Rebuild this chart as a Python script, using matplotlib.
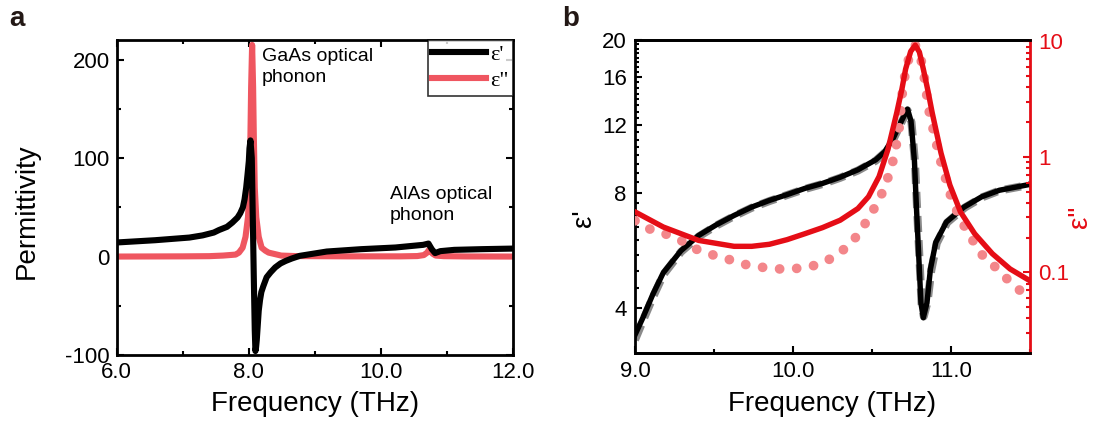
import numpy as np
import matplotlib.pyplot as plt
from matplotlib.ticker import MultipleLocator, FixedLocator, NullFormatter, FuncFormatter, LogLocator

plt.rcParams['font.family'] = ['Liberation Sans', 'DejaVu Sans']
plt.rcParams['axes.unicode_minus'] = False

# ---- panel a : bulk permittivity ----
fa_re = [6.0, 6.58, 7.10, 7.30, 7.47, 7.55, 7.67, 7.75, 7.83, 7.87, 7.91, 7.935, 7.96, 7.98, 8.00,
         8.01, 8.025, 8.045, 8.06, 8.075, 8.09, 8.10, 8.11, 8.12, 8.13, 8.15, 8.17, 8.19, 8.22,
         8.27, 8.33, 8.40, 8.48, 8.56, 8.65, 8.77, 9.18, 9.70, 10.22, 10.64, 10.72, 10.77, 10.82,
         10.90, 11.11, 11.52, 12.0]
eps_re_a = [14.3, 16.6, 19.3, 21.5, 24.4, 27, 30.2, 34.5, 39.7, 44, 50, 58, 70, 83, 97,
            110, 118, 100, 40, -20, -75, -96, -92, -85, -75, -55, -44, -36, -30,
            -21, -16, -11, -7, -4.4, -2, 0.7, 5.1, 7.5, 9.2, 11.9, 13.2, 7.5, 3.5,
            5.5, 6.8, 7.5, 8.1]
fa_im = [6.0, 7.0, 7.4, 7.61, 7.80, 7.85, 7.906, 7.95, 7.9875, 8.01, 8.025, 8.035, 8.05, 8.065,
         8.075, 8.09, 8.1125, 8.15, 8.194, 8.25, 8.30, 8.49, 8.7, 9.5, 10.3, 10.55, 10.65, 10.70,
         10.74, 10.78, 10.83, 10.95, 11.3, 12.0]
eps_im_a = [0, 0.2, 0.4, 1, 2, 4, 9, 20, 40, 70, 125, 172, 215, 172,
            125, 70, 40, 20, 9, 6, 4, 1, 0.5, 0.2, 0.2, 0.5, 1.5, 4,
            8, 3, 1, 0.4, 0.1, 0]

# ---- panel b : zoom around AlAs phonon ----
fb_re = [9.0, 9.05, 9.112, 9.179, 9.291, 9.403, 9.515, 9.627, 9.739, 9.851, 9.963, 10.075, 10.187,
         10.299, 10.411, 10.523, 10.579, 10.635, 10.691, 10.725, 10.747, 10.769, 10.780, 10.792,
         10.810, 10.825, 10.848, 10.870, 10.904, 10.971, 11.083, 11.195, 11.307, 11.5]
eps_re_b = [3.4, 3.77, 4.33, 4.94, 5.64, 6.18, 6.59, 6.97, 7.33, 7.63, 7.90, 8.20, 8.45,
            8.77, 9.17, 9.73, 10.2, 11.1, 12.4, 13.2, 12.3, 9.64, 7.55, 5.93,
            4.12, 3.77, 4.12, 5.05, 5.93, 6.70, 7.33, 7.80, 8.11, 8.40]
fb_re_fit = [9.0, 9.05, 9.112, 9.179, 9.291, 9.403, 9.515, 9.627, 9.739, 9.851, 9.963, 10.075, 10.187,
             10.299, 10.411, 10.523, 10.579, 10.635, 10.691, 10.725, 10.750, 10.772, 10.784, 10.796,
             10.814, 10.828, 10.852, 10.875, 10.910, 10.976, 11.088, 11.200, 11.310, 11.5]
eps_re_fit = [3.3, 3.7, 4.25, 4.88, 5.60, 6.14, 6.56, 6.94, 7.30, 7.60, 7.88, 8.17, 8.42,
              8.74, 9.13, 9.68, 10.15, 11.0, 12.3, 13.1, 12.2, 9.6, 7.5, 5.9,
              4.1, 3.8, 4.15, 5.0, 5.9, 6.68, 7.31, 7.78, 8.10, 8.38]
fb_im = [9.0, 9.179, 9.403, 9.627, 9.739, 9.851, 9.963, 10.075, 10.187, 10.299, 10.411, 10.478,
         10.545, 10.601, 10.657, 10.69, 10.713, 10.745, 10.774, 10.80, 10.825, 10.855, 10.881,
         10.937, 10.993, 11.060, 11.150, 11.262, 11.374, 11.5]
eps_im_b = [0.334, 0.247, 0.189, 0.168, 0.168, 0.175, 0.192, 0.216, 0.244, 0.283, 0.357, 0.452,
            0.676, 1.16, 2.42, 3.9, 5.77, 8.2, 9.3, 8.1, 5.77, 3.7, 2.42,
            1.08, 0.571, 0.334, 0.216, 0.145, 0.107, 0.0845]
fb_im_fit = [9.0, 9.022, 9.112, 9.190, 9.291, 9.381, 9.482, 9.582, 9.683, 9.795, 9.896, 9.997, 10.109,
             10.198, 10.288, 10.366, 10.433, 10.489, 10.545, 10.590, 10.635, 10.669, 10.69, 10.713,
             10.745, 10.774, 10.80, 10.825, 10.859, 10.926, 10.993, 11.060, 11.116, 11.161, 11.217,
             11.307, 11.374, 11.452, 11.5]
eps_im_fit = [0.28, 0.264, 0.231, 0.216, 0.189, 0.160, 0.143, 0.131, 0.118, 0.111, 0.107, 0.107, 0.112,
              0.122, 0.145, 0.177, 0.234, 0.313, 0.423, 0.591, 0.944, 1.61, 3.4, 5.6,
              8.2, 9.3, 8.1, 5.6, 2.58, 1.01, 0.483, 0.283, 0.216, 0.165, 0.131,
              0.104, 0.082, 0.067, 0.062]

red_a = '#ef5660'
red_b = '#e50d16'

fig = plt.figure(figsize=(10.95, 4.22), dpi=100)

# panel a
ax = fig.add_axes([0.1066, 0.1588, 0.3619, 0.7464])
ax.plot(fa_re, eps_re_a, color='black', lw=4.4, label="ε'", zorder=3)
ax.plot(fa_im, eps_im_a, color=red_a, lw=4.4, label='ε"', zorder=2)
ax.set_xlim(6, 12)
ax.set_ylim(-100, 220)
ax.xaxis.set_major_locator(MultipleLocator(2))
ax.xaxis.set_minor_locator(MultipleLocator(1))
ax.xaxis.set_major_formatter(FuncFormatter(lambda v, p: f'{v:.1f}'))
ax.yaxis.set_major_locator(MultipleLocator(100))
ax.yaxis.set_minor_locator(MultipleLocator(50))
ax.tick_params(which='both', direction='in', top=True, right=True, width=1.5, labelsize=16, pad=5)
ax.tick_params(which='major', length=5)
ax.tick_params(which='minor', length=3)
for s in ax.spines.values():
    s.set_linewidth(2)
ax.set_xlabel('Frequency (THz)', fontsize=20, labelpad=6)
ax.set_ylabel('Permittivity', fontsize=20, va='center')
ax.yaxis.set_label_coords(-0.226, 0.455)
leg = ax.legend(loc='upper right', borderaxespad=0, fancybox=False, edgecolor='black',
                prop={'family': 'Liberation Serif', 'size': 16}, handlelength=2.4,
                handletextpad=0.2, borderpad=0.2, labelspacing=0.25)
leg.get_frame().set_linewidth(1.2)
ax.text(8.2, 212, 'GaAs optical\nphonon', fontsize=14, va='top', ha='left', linespacing=1.35)
ax.text(10.13, 72, 'AlAs optical\nphonon', fontsize=14, va='top', ha='left', linespacing=1.35)

# panel b
bx = fig.add_axes([0.5799, 0.1635, 0.3607, 0.7417])
bx.plot(fb_re_fit, eps_re_fit, color='#8a8a8a', lw=5.8, ls=(0, (2, 1)), zorder=2)
bx.plot(fb_re, eps_re_b, color='black', lw=3.9, zorder=3)
bx.set_yscale('log')
bx.set_xlim(9, 11.5)
bx.set_ylim(3.05, 20)
bx.yaxis.set_major_locator(FixedLocator([4, 8, 12, 16, 20]))
bx.yaxis.set_major_formatter(FuncFormatter(lambda v, p: f'{v:g}'))
bx.yaxis.set_minor_locator(MultipleLocator(0.5))
bx.yaxis.set_minor_formatter(NullFormatter())
bx.xaxis.set_major_locator(MultipleLocator(1))
bx.xaxis.set_minor_locator(MultipleLocator(0.5))
bx.xaxis.set_major_formatter(FuncFormatter(lambda v, p: f'{v:.1f}'))
bx.tick_params(which='both', direction='in', width=1.5, labelsize=16, pad=6)
bx.tick_params(which='major', length=5)
bx.tick_params(which='minor', length=3)
for s in bx.spines.values():
    s.set_linewidth(2)
bx.spines['right'].set_visible(False)
bx.set_xlabel('Frequency (THz)', fontsize=20, labelpad=6)
bx.set_ylabel("ε'", fontsize=20, va='center')
bx.yaxis.set_label_coords(-0.129, 0.43)

bx2 = bx.twinx()
bx2.plot(fb_im_fit, eps_im_fit, color='#f3868a', lw=7, ls=(0, (0.01, 1.75)),
         dash_capstyle='round', zorder=1)
bx2.plot(fb_im, eps_im_b, color=red_b, lw=3.9, zorder=2)
bx2.set_yscale('log')
bx2.set_ylim(0.02, 10.3)
bx2.yaxis.set_major_locator(LogLocator(base=10))
bx2.yaxis.set_major_formatter(FuncFormatter(lambda v, p: f'{v:g}'))
bx2.yaxis.set_minor_locator(LogLocator(base=10, subs=np.arange(2, 10)))
bx2.yaxis.set_minor_formatter(NullFormatter())
bx2.tick_params(which='both', direction='in', width=1.5, colors=red_b, labelsize=16, pad=6)
bx2.tick_params(which='major', length=5)
bx2.tick_params(which='minor', length=3)
for k, s in bx2.spines.items():
    s.set_linewidth(2)
bx2.spines['right'].set_color(red_b)
bx2.spines['left'].set_visible(False)
bx2.set_ylabel('ε"', fontsize=20, color=red_b, rotation=90, va='center')
bx2.yaxis.set_label_coords(1.127, 0.435)

fig.text(0.008, 0.985, 'a', fontsize=20, fontweight='bold', va='top', color='#231815')
fig.text(0.513, 0.985, 'b', fontsize=20, fontweight='bold', va='top', color='#231815')

fig.savefig('out.png', dpi=100)
